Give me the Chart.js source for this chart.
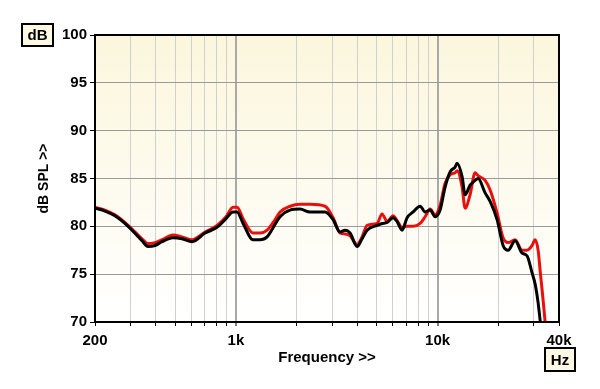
<!DOCTYPE html>
<html>
<head>
<meta charset="utf-8">
<script src="https://cdn.jsdelivr.net/npm/chart.js@4.4.1/dist/chart.umd.min.js"></script>
<style>
  html, body { margin: 0; padding: 0; background: #fff; }
  #wrap { width: 600px; height: 389px; }
</style>
</head>
<body>
<div id="wrap"><canvas id="splChart" width="600" height="389"></canvas></div>
<script>
// Frequency response readings (Hz / dB SPL)
const freqs = [200, 224, 251, 292, 342, 366, 397, 430, 487, 540, 606, 703, 806, 893, 967, 1013,
    1085, 1215, 1317, 1427, 1563, 1655, 1855, 2078, 2330, 2766, 3032, 3284, 3476, 3681, 3988,
    4222, 4470, 5010, 5304, 5616, 6016, 6296, 6666, 7058, 7560, 8190, 8672, 9180, 9720, 10290,
    10894, 11536, 12212, 12494, 13228, 13690, 14494, 15346, 15880, 17204, 18218, 19726, 21124,
    22364, 24228, 26260, 27800, 29440, 30440, 31520, 32240, 33360, 34140, 35320];

const blackDb = [81.9, 81.6, 81.1, 80.0, 78.5, 77.9, 78.0, 78.4, 78.8, 78.7, 78.4, 79.3, 79.9, 80.8, 81.5, 81.5,
    80.3, 78.6, 78.6, 78.9, 80.2, 81.0, 81.7, 81.8, 81.5, 81.5, 80.7, 79.4, 79.6, 79.3, 77.9,
    78.7, 79.6, 80.1, 80.3, 80.4, 80.9, 80.5, 79.6, 80.9, 81.5, 82.1, 81.5, 81.7, 81.0, 81.7,
    84.1, 85.7, 86.2, 86.6, 85.2, 83.3, 84.3, 84.8, 85.0, 83.5, 82.6, 80.7, 78.0,
    77.5, 78.5, 77.2, 76.9, 75.1, 74.0, 72.0, 70.2, 68.0, 66.0, 62.0];

const redDb = [82.0, 81.7, 81.2, 80.1, 78.7, 78.2, 78.3, 78.6, 79.1, 78.9, 78.6, 79.4, 80.1, 81.0, 82.0, 82.0,
    80.8, 79.3, 79.3, 79.6, 80.7, 81.5, 82.1, 82.3, 82.3, 82.1, 80.9, 79.3, 79.2, 79.0, 78.1,
    78.9, 80.1, 80.3, 81.3, 80.5, 81.1, 80.6, 79.9, 80.0, 80.0, 80.3, 81.0, 81.8, 81.2, 82.2,
    84.5, 85.4, 85.6, 85.8, 84.1, 81.9, 83.3, 85.6, 85.3, 84.8, 83.8, 81.4, 78.8,
    78.3, 78.6, 77.5, 77.5, 78.0, 78.6, 77.5, 75.4, 72.3, 70.0, 66.0];

// Axis ticks
const xGrid = [200, 300, 400, 500, 600, 700, 800, 900, 1000, 2000, 3000, 4000, 5000, 6000,
    7000, 8000, 9000, 10000, 20000, 30000, 40000];
const xLabelValues = [200, 1000, 10000, 40000];
const xLabelTexts = ['200', '1k', '10k', '40k'];
const yMin = 70;
const yMax = 100;
const yStep = 5;

const FONT = "'Liberation Sans', Arial, Helvetica, sans-serif";

document.addEventListener('DOMContentLoaded', function() {
    initSplChart();
});

/**
 * Cream background inside the plot, frame and unit boxes
 */
const framePlugin = {
    id: 'frame',
    beforeDraw(chart) {
        const { ctx, chartArea: a } = chart;
        ctx.save();
        ctx.fillStyle = '#ffffff';
        ctx.fillRect(0, 0, chart.width, chart.height);
        const grad = ctx.createLinearGradient(0, a.top, 0, a.bottom);
        grad.addColorStop(0, '#fbf6dc');
        grad.addColorStop(1, '#ffffff');
        ctx.fillStyle = grad;
        ctx.fillRect(a.left, a.top, a.right - a.left, a.bottom - a.top);
        ctx.restore();
    },
    afterDraw(chart) {
        const { ctx, chartArea: a } = chart;
        ctx.save();
        ctx.strokeStyle = '#000';
        ctx.lineWidth = 2;
        ctx.strokeRect(a.left, a.top, a.right - a.left, a.bottom - a.top);

        // unit boxes
        drawUnitBox(ctx, 'dB', 22, 24, 31, 22);
        drawUnitBox(ctx, 'Hz', 545, 348, 30, 23);
        ctx.restore();
    }
};

function drawUnitBox(ctx, text, x, y, w, h) {
    ctx.fillStyle = '#fcf8e2';
    ctx.fillRect(x, y, w, h);
    ctx.strokeStyle = '#000';
    ctx.lineWidth = 2;
    ctx.strokeRect(x, y, w, h);
    ctx.fillStyle = '#000';
    ctx.font = 'bold 15px ' + FONT;
    ctx.textAlign = 'center';
    ctx.textBaseline = 'middle';
    ctx.fillText(text, x + w / 2, y + h / 2 + 1);
}

function toPoints(values) {
    return freqs.map((f, i) => ({ x: f, y: values[i] }));
}

function initSplChart() {
    const canvas = document.getElementById('splChart');

    new Chart(canvas, {
        type: 'line',
        data: {
            datasets: [{
                label: 'Black',
                data: toPoints(blackDb),
                borderColor: '#000000',
                borderWidth: 3,
                pointRadius: 0,
                cubicInterpolationMode: 'monotone',
                clip: 0,
                order: 1
            }, {
                label: 'Red',
                data: toPoints(redDb),
                borderColor: '#e8100c',
                borderWidth: 3,
                pointRadius: 0,
                cubicInterpolationMode: 'monotone',
                clip: 0,
                order: 2
            }]
        },
        options: {
            responsive: false,
            animation: false,
            devicePixelRatio: 1,
            layout: { padding: { left: 0, right: 41, top: 35, bottom: 0 } },
            plugins: {
                legend: { display: false },
                tooltip: { enabled: false }
            },
            scales: {
                x: {
                    type: 'logarithmic',
                    min: 200,
                    max: 40000,
                    afterBuildTicks: axis => {
                        axis.ticks = xGrid.map(v => ({ value: v }));
                    },
                    afterFit: axis => { axis.height = 67; },
                    ticks: {
                        autoSkip: false,
                        maxRotation: 0,
                        padding: 6,
                        color: '#000',
                        font: { family: FONT, size: 15, weight: 'bold' },
                        callback: value => {
                            const i = xLabelValues.indexOf(value);
                            return i >= 0 ? xLabelTexts[i] : '';
                        }
                    },
                    grid: {
                        color: ctx => {
                            const v = ctx.tick && ctx.tick.value;
                            return (v === 1000 || v === 10000) ? '#a9a9a9' : '#d0d0d0';
                        },
                        lineWidth: ctx => {
                            const v = ctx.tick && ctx.tick.value;
                            return (v === 1000 || v === 10000) ? 2 : 1;
                        },
                        tickLength: 4,
                        tickColor: '#000',
                        tickWidth: 1
                    },
                    border: { display: true, color: '#000', width: 2 },
                    title: {
                        display: true,
                        text: 'Frequency >>',
                        color: '#000',
                        font: { family: FONT, size: 15, weight: 'bold' },
                        padding: { top: 0, bottom: 22 }
                    }
                },
                y: {
                    min: yMin,
                    max: yMax,
                    afterFit: axis => { axis.width = 95; },
                    ticks: {
                        stepSize: yStep,
                        padding: 3,
                        color: '#000',
                        font: { family: FONT, size: 15, weight: 'bold' }
                    },
                    grid: {
                        color: '#9a9a9a',
                        lineWidth: 1,
                        tickLength: 5,
                        tickColor: '#000',
                        tickWidth: 1
                    },
                    border: { display: true, color: '#000', width: 2 },
                    title: {
                        display: true,
                        text: 'dB SPL >>',
                        color: '#000',
                        font: { family: FONT, size: 14, weight: 'bold' },
                        padding: { top: 36, bottom: 0 }
                    }
                }
            }
        },
        plugins: [framePlugin]
    });
}
</script>
</body>
</html>
